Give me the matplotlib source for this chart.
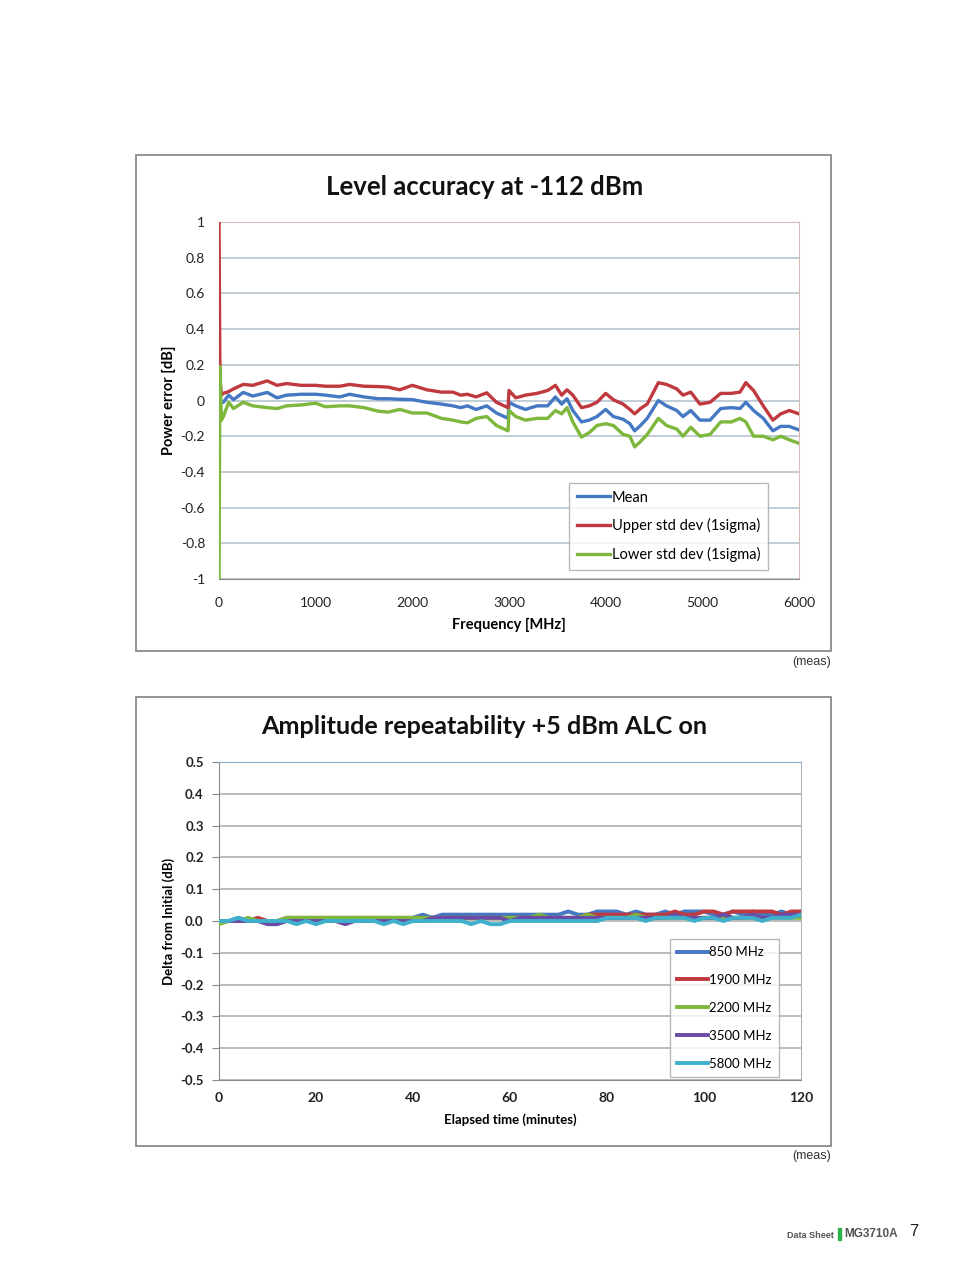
import matplotlib
matplotlib.use("Agg")
import matplotlib.pyplot as plt
from matplotlib.patches import Rectangle

W, H = 954, 1268
plt.rcParams['font.family'] = ['Lato', 'DejaVu Sans']

# ---------------- Chart 1 data ----------------
freq = [0, 10, 25, 45, 100, 150, 250, 350, 500, 600, 700, 850, 1000, 1100, 1250, 1350,
        1500, 1650, 1750, 1870, 2000, 2150, 2300, 2420, 2500, 2570, 2660, 2770, 2870,
        2990, 3000, 3070, 3170, 3290, 3400, 3480, 3545, 3600, 3660, 3750, 3830, 3910,
        4000, 4080, 4180, 4250, 4300, 4360, 4430, 4545, 4630, 4735, 4800, 4880, 4975,
        5080, 5190, 5300, 5390, 5450, 5530, 5630, 5730, 5810, 5900, 6000]
mean = [0.0, 0.0, -0.01, -0.01, 0.03, 0.005, 0.045, 0.025, 0.045, 0.015, 0.03, 0.035,
        0.035, 0.03, 0.02, 0.035, 0.02, 0.01, 0.01, 0.007, 0.005, -0.01, -0.02, -0.03,
        -0.04, -0.03, -0.05, -0.03, -0.07, -0.1, -0.01, -0.03, -0.05, -0.03, -0.03,
        0.02, -0.02, 0.01, -0.056, -0.12, -0.11, -0.09, -0.05, -0.09, -0.105, -0.13,
        -0.17, -0.14, -0.1, 0.0, -0.03, -0.056, -0.09, -0.056, -0.11, -0.11, -0.045,
        -0.04, -0.045, -0.01, -0.056, -0.1, -0.17, -0.145, -0.145, -0.165]
upper = [1.0, 0.12, 0.03, 0.04, 0.05, 0.065, 0.09, 0.085, 0.11, 0.085, 0.095, 0.085,
         0.085, 0.08, 0.08, 0.09, 0.08, 0.078, 0.075, 0.06, 0.085, 0.06, 0.047, 0.047,
         0.03, 0.035, 0.02, 0.043, -0.01, -0.04, 0.056, 0.015, 0.03, 0.04, 0.056,
         0.085, 0.03, 0.06, 0.03, -0.04, -0.03, -0.01, 0.04, 0.004, -0.02, -0.05,
         -0.075, -0.045, -0.02, 0.1, 0.09, 0.065, 0.03, 0.047, -0.02, -0.01, 0.04,
         0.04, 0.047, 0.1, 0.056, -0.03, -0.11, -0.075, -0.056, -0.075]
lower = [-1.0, 0.19, -0.11, -0.09, -0.01, -0.045, -0.01, -0.03, -0.04, -0.045, -0.03,
         -0.025, -0.015, -0.035, -0.03, -0.03, -0.04, -0.06, -0.065, -0.05, -0.07, -0.07,
         -0.1, -0.11, -0.12, -0.125, -0.1, -0.09, -0.14, -0.17, -0.056, -0.09, -0.11,
         -0.1, -0.1, -0.056, -0.075, -0.04, -0.12, -0.205, -0.18, -0.14, -0.13, -0.14,
         -0.19, -0.2, -0.26, -0.23, -0.19, -0.1, -0.14, -0.16, -0.2, -0.15, -0.2, -0.19,
         -0.12, -0.12, -0.1, -0.12, -0.2, -0.2, -0.22, -0.2, -0.22, -0.24]
c1_labels = ["Mean", "Upper std dev (1sigma)", "Lower std dev (1sigma)"]
c1_yticks = [-1, -0.8, -0.6, -0.4, -0.2, 0, 0.2, 0.4, 0.6, 0.8, 1]
c1_xticks = [0, 1000, 2000, 3000, 4000, 5000, 6000]

# ---------------- Chart 2 data ----------------
minutes = list(range(0, 121, 2))
s850 = [0, 0, 0.01, 0, 0, 0, 0, 0, 0.01, 0,
        0, 0, 0, 0, 0, 0, 0, 0, 0, 0,
        0.01, 0.02, 0.01, 0.02, 0.02, 0.02, 0.02, 0.02, 0.02, 0.02,
        0.02, 0.02, 0.02, 0.02, 0.02, 0.02, 0.03, 0.02, 0.02, 0.03,
        0.03, 0.03, 0.02, 0.03, 0.02, 0.02, 0.03, 0.02, 0.03, 0.03,
        0.03, 0.02, 0.02, 0.03, 0.02, 0.03, 0.02, 0.02, 0.03, 0.02,
        0.03]
s1900 = [0, 0, 0, 0, 0.01, 0, 0, 0.01, 0.01, 0.01,
         0.01, 0.01, 0.01, 0.01, 0.01, 0.01, 0.01, 0.01, 0.01, 0.01,
         0.01, 0.01, 0.01, 0.01, 0.01, 0.01, 0.01, 0.01, 0.01, 0.01,
         0.01, 0.01, 0.01, 0.01, 0.01, 0.01, 0.01, 0.01, 0.02, 0.02,
         0.02, 0.02, 0.02, 0.02, 0.02, 0.02, 0.02, 0.03, 0.02, 0.02,
         0.03, 0.03, 0.02, 0.03, 0.03, 0.03, 0.03, 0.03, 0.02, 0.03,
         0.03]
s2200 = [-0.01, 0, 0, 0.01, 0, 0, 0, 0.01, 0.01, 0.01,
         0.01, 0.01, 0.01, 0.01, 0.01, 0.01, 0.01, 0.01, 0.01, 0.01,
         0.01, 0.01, 0.01, 0.01, 0.01, 0.01, 0.01, 0.01, 0.01, 0.01,
         0.01, 0.01, 0.01, 0.02, 0.01, 0.01, 0.01, 0.01, 0.02, 0.01,
         0.01, 0.01, 0.01, 0.02, 0.01, 0.01, 0.01, 0.01, 0.01, 0.01,
         0.01, 0.01, 0.01, 0.01, 0.01, 0.01, 0.01, 0.01, 0.01, 0.01,
         0.01]
s3500 = [0, 0, 0, 0, 0, -0.01, -0.01, 0, 0, 0,
         0, 0, 0, -0.01, 0, 0, 0, 0, 0, 0,
         0, 0, 0.01, 0.01, 0.01, 0.01, 0.01, 0.01, 0.01, 0.01,
         0, 0.01, 0.01, 0.01, 0.01, 0.01, 0.01, 0.01, 0.01, 0.01,
         0.01, 0.01, 0.01, 0.01, 0.01, 0.01, 0.01, 0.02, 0.01, 0.01,
         0.01, 0.01, 0.02, 0.01, 0.01, 0.02, 0.01, 0.01, 0.02, 0.02,
         0.02]
s5800 = [0, 0, 0.01, 0, 0, 0, 0, 0, -0.01, 0,
         -0.01, 0, 0, 0, 0, 0, 0, -0.01, 0, -0.01,
         0, 0, 0, 0, 0, 0, -0.01, 0, -0.01, -0.01,
         0, 0, 0, 0, 0, 0, 0, 0, 0, 0,
         0.01, 0.01, 0.01, 0.01, 0, 0.01, 0.01, 0.01, 0.01, 0,
         0.01, 0.01, 0, 0.01, 0.01, 0.01, 0, 0.01, 0.01, 0.01,
         0.02]
c2_labels = ["850 MHz", "1900 MHz", "2200 MHz", "3500 MHz", "5800 MHz"]
c2_yticks = [-0.5, -0.4, -0.3, -0.2, -0.1, 0.0, 0.1, 0.2, 0.3, 0.4, 0.5]
c2_xticks = [0, 20, 40, 60, 80, 100, 120]

# ---------------- Figure ----------------
fig = plt.figure(figsize=(W / 100, H / 100), dpi=100)
fig.patch.set_facecolor('white')


def rect(l, t, r, b):
    return [l / W, 1 - b / H, (r - l) / W, (b - t) / H]


def ftext(x, y, s, **kw):
    fig.text(x / W, 1 - y / H, s, **kw)


# outer chart frames
for (l, t, r, b) in [(136, 155, 831, 651), (136, 697, 831, 1146)]:
    fig.patches.append(Rectangle((l / W, 1 - b / H), (r - l) / W, (b - t) / H,
                                 transform=fig.transFigure, fill=False,
                                 edgecolor='#8a8a8a', linewidth=1.3))

blue, red, green = '#4578c2', '#c0393f', '#7db73b'
purple, cyan = '#6a4ca6', '#3fb0cc'
grid_c = '#b5c3cf'

# ---- Chart 1 ----
ax1 = fig.add_axes(rect(219, 222, 799, 579))
ax1.plot(freq, mean, color=blue, lw=2.4, label=c1_labels[0], zorder=3)
ax1.plot(freq, upper, color=red, lw=2.4, label=c1_labels[1], zorder=3)
ax1.plot(freq, lower, color=green, lw=2.4, label=c1_labels[2], zorder=3)
ax1.set_xlim(0, 6000)
ax1.set_ylim(-1, 1)
ax1.set_yticks(c1_yticks)
ax1.set_yticklabels([f"{v:g}" for v in c1_yticks])
ax1.set_xticks(c1_xticks)
ax1.grid(axis='y', color=grid_c, lw=1.2)
ax1.set_axisbelow(True)
for s in ['top', 'right']:
    ax1.spines[s].set_color('#dcb8b8')
ax1.spines['left'].set_color('#8a8a8a')
ax1.spines['bottom'].set_color('#8a8a8a')
ax1.tick_params(axis='x', length=0, labelsize=10, colors='#222222', pad=13)
ax1.tick_params(axis='y', length=0, labelsize=10, colors='#222222', pad=10)
ax1.set_xlabel("Frequency [MHz]", fontsize=10.5, fontweight='bold', labelpad=6)
ax1.set_ylabel("Power error [dB]", fontsize=10.5, fontweight='bold', labelpad=3)
leg1 = ax1.legend(loc='lower right', bbox_to_anchor=(0.947, 0.024), fontsize=10.5,
                  frameon=True, fancybox=False, edgecolor='#a8a8a8', handlelength=2.3,
                  handletextpad=0.1, labelspacing=0.95, borderpad=0.55, borderaxespad=0)
leg1.get_frame().set_linewidth(1.0)
ftext(485, 187, "Level accuracy at -112 dBm", fontsize=18.5, fontweight='bold',
      ha='center', va='center', color='#111111')

# ---- Chart 2 ----
ax2 = fig.add_axes(rect(219, 762, 801, 1080))
for vals, c, lab in zip([s850, s1900, s2200, s3500, s5800],
                        [blue, red, green, purple, cyan], c2_labels):
    ax2.plot(minutes, vals, color=c, lw=2.8, label=lab, zorder=3)
ax2.set_xlim(0, 120)
ax2.set_ylim(-0.5, 0.5)
ax2.set_yticks(c2_yticks)
ax2.set_yticklabels([f"{v:.1f}" for v in c2_yticks])
ax2.set_xticks(c2_xticks)
ax2.grid(axis='y', color='#a9a9a9', lw=1.1)
ax2.set_axisbelow(True)
ax2.spines['top'].set_color('#86aac8')
ax2.spines['right'].set_color('#a9b4bf')
ax2.spines['left'].set_color('#8a8a8a')
ax2.spines['bottom'].set_color('#8a8a8a')
ax2.tick_params(axis='y', length=5, direction='out', color='#8a8a8a', labelsize=9.5,
                labelcolor='#222222', pad=6)
ax2.tick_params(axis='x', length=0, labelsize=10, colors='#222222', pad=9)
for lbl in ax2.get_yticklabels():
    lbl.set_fontweight('bold')
for lbl in ax2.get_xticklabels():
    lbl.set_fontweight('bold')
ax2.set_xlabel("Elapsed time (minutes)", fontsize=9.5, fontweight='bold', labelpad=6)
ax2.set_ylabel("Delta from Initial (dB)", fontsize=9.5, fontweight='bold', labelpad=4)
leg2 = ax2.legend(loc='lower right', bbox_to_anchor=(0.962, 0.01), fontsize=9.5,
                  frameon=True, fancybox=False, edgecolor='#a8a8a8', handlelength=2.3,
                  handletextpad=0.1, labelspacing=1.2, borderpad=0.55, borderaxespad=0)
leg2.get_frame().set_linewidth(1.0)
ftext(484, 727, "Amplitude repeatability +5 dBm ALC on", fontsize=18.2, fontweight='bold',
      ha='center', va='center', color='#111111')

# ---- captions & footer ----
ftext(831, 662, "(meas)", fontsize=9, ha='right', va='center', color='#333333',
      family=['Liberation Sans', 'DejaVu Sans'])
ftext(831, 1156, "(meas)", fontsize=9, ha='right', va='center', color='#333333',
      family=['Liberation Sans', 'DejaVu Sans'])
ftext(834, 1235, "Data Sheet", fontsize=6.5, fontweight='bold', ha='right', va='center',
      color='#555555', family=['Liberation Sans', 'DejaVu Sans'])
fig.patches.append(Rectangle((838 / W, 1 - 1240 / H), 3 / W, 12 / H,
                             transform=fig.transFigure, color='#2fb24a'))
ftext(844, 1234, "MG3710A", fontsize=8.5, fontweight='bold', ha='left', va='center',
      color='#555555', family=['Liberation Sans', 'DejaVu Sans'])
ftext(909, 1232, "7", fontsize=12, ha='left', va='center', color='#222222',
      family=['Liberation Sans', 'DejaVu Sans'])

fig.savefig("out.png", dpi=100, facecolor='white')
